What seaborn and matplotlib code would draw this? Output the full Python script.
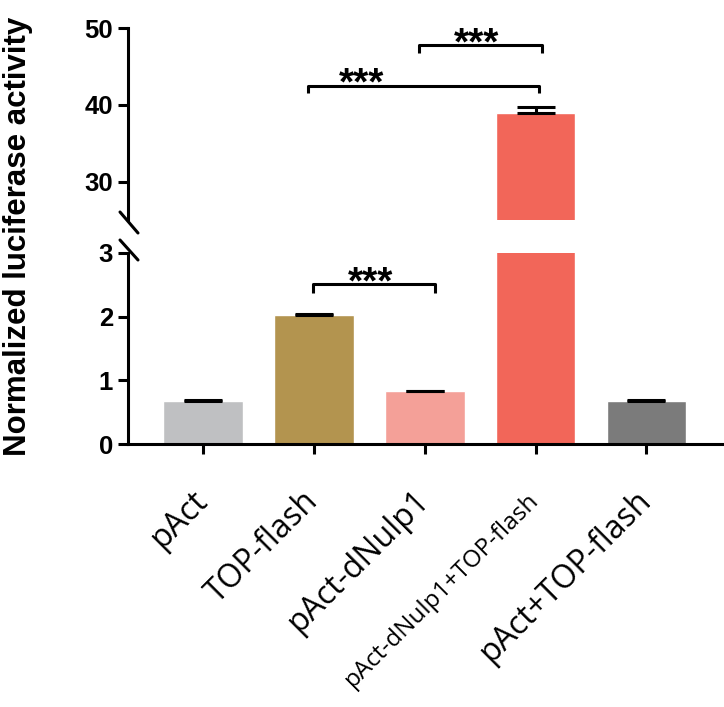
import matplotlib
matplotlib.use("Agg")
import matplotlib.pyplot as plt
from matplotlib.lines import Line2D
import seaborn as sns
import pandas as pd
import numpy as np

# ---------------- data ----------------
categories = ["pAct", "TOP-flash", "pAct-dNulp1", "pAct-dNulp1+TOP-flash", "pAct+TOP-flash"]
means = [0.68, 2.03, 0.83, 38.9, 0.68]
sd_upper = [0.01, 0.01, 0.01, 0.8, 0.01]
colors = ["#BFC0C2", "#B3944F", "#F4A098", "#F26659", "#7B7B7B"]
lower_ticks = [0, 1, 2, 3]
upper_ticks = [30, 40, 50]
lower_range = (0, 3)
upper_range = (25, 50)
ylabel = "Normalized luciferase activity"
# significance brackets: (x1, x2, y_bar, y_leg_bottom, x_stars, y_stars, label, panel)
brackets = [
    (0.99, 2.09, 2.51, 2.37, 1.51, 2.36, "***", "lower"),
    (0.95, 3.03, 42.5, 41.6, 1.43, 41.4, "***", "upper"),
    (1.95, 3.06, 47.8, 46.8, 2.47, 46.6, "***", "upper"),
]

df = pd.DataFrame({"group": categories, "value": means})

sns.set_theme(style="ticks")
plt.rcParams["font.family"] = ["Liberation Sans", "DejaVu Sans"]
plt.rcParams.update({
    "text.color": "black", "axes.edgecolor": "black", "axes.labelcolor": "black",
    "xtick.color": "black", "ytick.color": "black",
})

W, H = 724, 707
fig = plt.figure(figsize=(W / 100, H / 100), dpi=100)

def fy(py):
    return 1 - py / H

left = 128 / W
width = (W - 128) / W
ax_low = fig.add_axes([left, fy(444), width, fy(253) - fy(444)])
ax_up = fig.add_axes([left, fy(220), width, fy(28.3) - fy(220)])

lw = 2.2
for ax in (ax_low, ax_up):
    sns.barplot(data=df, x="group", y="value", hue="group", order=categories,
                hue_order=categories, palette=colors, saturation=1, width=0.72,
                errorbar=None, legend=False, ax=ax)
    ax.errorbar(x=np.arange(len(categories)), y=means,
                yerr=[np.zeros(len(means)), sd_upper], fmt="none",
                ecolor="black", elinewidth=lw, capsize=13.5, capthick=lw, zorder=5)
    ax.set_xlim(-0.677, 4.70)
    ax.set_xlabel("")
    ax.set_ylabel("")
    for s in ("top", "right"):
        ax.spines[s].set_visible(False)
    ax.spines["left"].set_linewidth(lw)
    ax.spines["bottom"].set_linewidth(lw)
    ax.tick_params(axis="y", length=7.2, width=lw, pad=3.5)

ax_low.set_ylim(*lower_range)
ax_low.set_yticks(lower_ticks)
ax_low.set_yticklabels([str(v) for v in lower_ticks], fontweight="bold", fontsize=18.5)
ax_up.set_ylim(*upper_range)
ax_up.set_yticks(upper_ticks)
ax_up.set_yticklabels([str(v) for v in upper_ticks], fontweight="bold", fontsize=18.5)

ax_up.spines["bottom"].set_visible(False)
ax_up.tick_params(axis="x", bottom=False, labelbottom=False)

ax_low.tick_params(axis="x", length=7.5, width=lw, pad=30)
ax_low.set_xticks(range(len(categories)))
ax_low.set_xticklabels(categories, rotation=45, ha="right", va="center",
                       rotation_mode="anchor", fontsize=23,
                       fontfamily=["Open Sans", "DejaVu Sans"])
xt = ax_low.get_xticklabels()
xt[3].set_fontsize(17.5)

# y label
fig.text(18 / W, fy(236), ylabel, rotation=90, ha="center", va="center",
         fontsize=22.5, fontweight="bold")

# break marks
for (x0, y0, x1, y1) in [(120, 212, 138, 233), (120, 240, 138, 260)]:
    fig.add_artist(Line2D([x0 / W, x1 / W], [fy(y0), fy(y1)], color="black", lw=lw))

# brackets
for x1, x2, yb, yl, xs, ys, lab, panel in brackets:
    ax = ax_low if panel == "lower" else ax_up
    ax.plot([x1, x1, x2, x2], [yl, yb, yb, yl], color="black", lw=lw,
            clip_on=False, solid_capstyle="butt", zorder=6)
    ax.text(xs, ys, lab, ha="center", va="baseline", fontsize=28,
            fontweight="bold", clip_on=False)

fig.savefig("out.png", dpi=100)
